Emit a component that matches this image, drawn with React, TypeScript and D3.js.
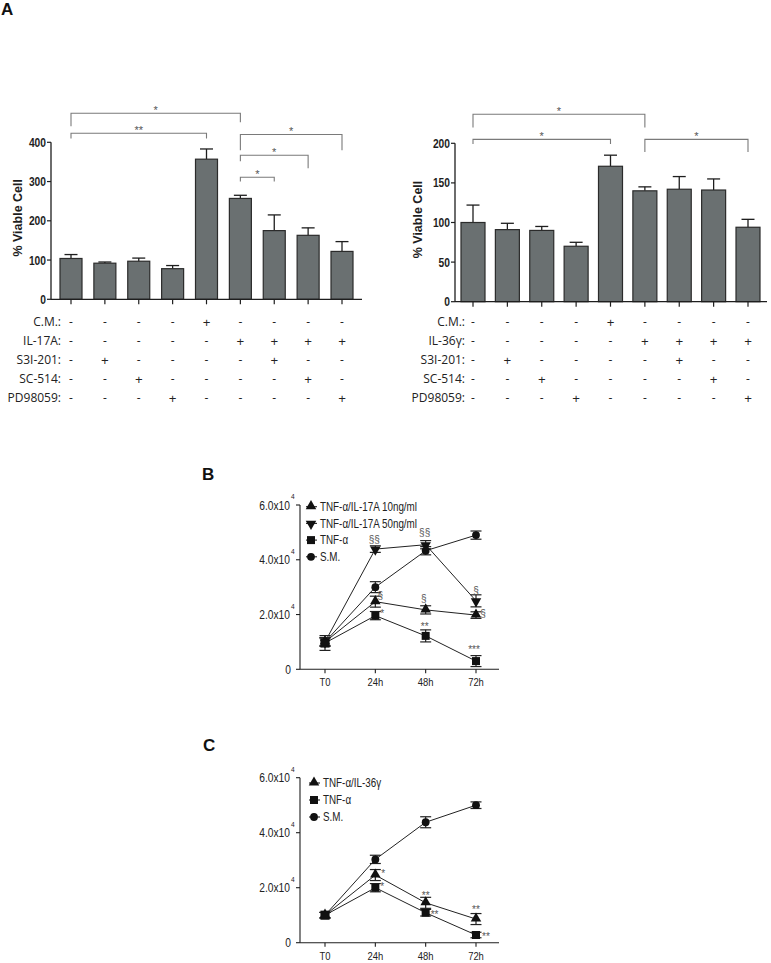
import React from "react";
import * as d3 from "d3";

const SANS = "'Liberation Sans', Arial, sans-serif";
const TABLE_FONT = "'Open Sans', 'Noto Sans', sans-serif";
const NARROW_SCALE = 0.82;

// ---------------- Panel A data ----------------
const conditions = d3.range(9);
const il17aMeans = [104, 92, 97, 78, 357, 257, 175, 163, 122];
const il17aErrors = [10, 3, 8, 8, 26, 8, 40, 19, 25];
const il36gMeans = [100, 91, 90, 70, 171, 140, 142, 141, 94];
const il36gErrors = [22, 8, 5, 5, 14, 5, 16, 14, 10];
const il17aTicks = [0, 100, 200, 300, 400];
const il36gTicks = [0, 50, 100, 150, 200];
const rowLabelsIL17A = ["C.M.:", "IL-17A:", "S3I-201:", "SC-514:", "PD98059:"];
const rowLabelsIL36G = ["C.M.:", "IL-36γ:", "S3I-201:", "SC-514:", "PD98059:"];
const treatmentRows = [
  ["-", "-", "-", "-", "+", "-", "-", "-", "-"],
  ["-", "-", "-", "-", "-", "+", "+", "+", "+"],
  ["-", "+", "-", "-", "-", "-", "+", "-", "-"],
  ["-", "-", "+", "-", "-", "-", "-", "+", "-"],
  ["-", "-", "-", "+", "-", "-", "-", "-", "+"],
];
const il17aBrackets = [
  { from: 0, to: 5, level: 474, endFrom: 441, endTo: 451, label: "*" },
  { from: 0, to: 4, level: 423, endFrom: 410, endTo: 410, label: "**" },
  { from: 5, to: 8, level: 420, endFrom: 380, endTo: 380, label: "*" },
  { from: 5, to: 7, level: 367, endFrom: 352, endTo: 334, label: "*" },
  { from: 5, to: 6, level: 311, endFrom: 300, endTo: 300, label: "*" },
];
const il36gBrackets = [
  { from: 0, to: 5, level: 236.6, endFrom: 220, endTo: 220, label: "*" },
  { from: 0, to: 4, level: 205, endFrom: 199, endTo: 199, label: "*" },
  { from: 5, to: 8, level: 205, endFrom: 189, endTo: 189, label: "*" },
];

// ---------------- Panels B / C data (x10^4 cells) ----------------
const timeLabels = ["T0", "24h", "48h", "72h"];
const lineTicks = [0, 2, 4, 6];
const bTnfIl17a10 = [1.0, 2.47, 2.17, 1.98];
const bTnfIl17a10Err = [0.15, 0.2, 0.15, 0.12];
const bTnfIl17a50 = [1.0, 4.39, 4.55, 2.5];
const bTnfIl17a50Err = [0.15, 0.12, 0.15, 0.22];
const bTnf = [0.96, 1.96, 1.22, 0.3];
const bTnfErr = [0.27, 0.15, 0.22, 0.2];
const bSM = [1.0, 3.0, 4.33, 4.9];
const bSMErr = [0.15, 0.2, 0.15, 0.15];

const cTnfIl36g = [1.0, 2.46, 1.45, 0.86];
const cTnfIl36gErr = [0.1, 0.2, 0.2, 0.2];
const cTnf = [1.0, 2.0, 1.09, 0.28];
const cTnfErr = [0.1, 0.15, 0.12, 0.1];
const cSM = [1.0, 3.03, 4.38, 5.0];
const cSMErr = [0.1, 0.15, 0.2, 0.12];

const bLegend = ["TNF-α/IL-17A 10ng/ml", "TNF-α/IL-17A 50ng/ml", "TNF-α", "S.M."];
const cLegend = ["TNF-α/IL-36γ", "TNF-α", "S.M."];

// annotations: series index, time index, text, offsets of glyph centre
const bNotes = [
  { s: 1, t: 1, text: "§§", dx: -1, dy: -10, anchor: "middle" },
  { s: 1, t: 2, text: "§§", dx: -1, dy: -12, anchor: "middle" },
  { s: 1, t: 3, text: "§", dx: 0, dy: -10, anchor: "middle" },
  { s: 0, t: 1, text: "§", dx: 5, dy: -6, anchor: "middle" },
  { s: 0, t: 2, text: "§", dx: -2, dy: -11, anchor: "middle" },
  { s: 0, t: 3, text: "§", dx: 7, dy: -2, anchor: "middle" },
  { s: 2, t: 1, text: "*", dx: 5, dy: -4, anchor: "start" },
  { s: 2, t: 2, text: "**", dx: -1, dy: -11, anchor: "middle" },
  { s: 2, t: 3, text: "***", dx: -2, dy: -13, anchor: "middle" },
];
const cNotes = [
  { s: 0, t: 1, text: "*", dx: 6, dy: -3, anchor: "start" },
  { s: 1, t: 1, text: "*", dx: 5, dy: -3, anchor: "start" },
  { s: 0, t: 2, text: "**", dx: 0, dy: -9, anchor: "middle" },
  { s: 1, t: 2, text: "**", dx: 5, dy: 0, anchor: "start" },
  { s: 0, t: 3, text: "**", dx: 0, dy: -11, anchor: "middle" },
  { s: 1, t: 3, text: "**", dx: 6, dy: 0, anchor: "start" },
];

// ---------------- styling ----------------
const BAR_FILL = "#6a7071";
const BAR_STROKE = "#2b2b2b";
const INK = "#1e1e1e";
const BRACKET = "#7a7a7a";

// horizontally condensed text (emulates a narrow sans face)
function NText(props: {
  x: number;
  y: number;
  children: React.ReactNode;
  anchor?: string;
  size: number;
  bold?: boolean;
  fill?: string;
  dy?: string;
}) {
  return (
    <text
      transform={`translate(${props.x},${props.y}) scale(${NARROW_SCALE},1)`}
      textAnchor={props.anchor || "start"}
      dy={props.dy}
      fontSize={props.size}
      fontWeight={props.bold ? "bold" : "normal"}
      fontFamily={SANS}
      fill={props.fill || "#222"}
    >
      {props.children}
    </text>
  );
}

type BarProps = {
  means: number[];
  errors: number[];
  ticks: number[];
  rowLabels: string[];
  brackets: { from: number; to: number; level: number; endFrom: number; endTo: number; label: string }[];
  xRange: [number, number];
  yRange: [number, number];
  yMax: number;
  axisX: number;
  axisEnd: number;
  barWidth: number;
  yLabelX: number;
};

function BarPanel(p: BarProps) {
  const x = d3.scalePoint<number>().domain(conditions).range(p.xRange);
  const y = d3.scaleLinear().domain([0, p.yMax]).range(p.yRange);
  const y0 = y(0);
  const rowY = d3.scalePoint<number>().domain(d3.range(5)).range([322, 398]);
  const cap = 13;
  return (
    <g>
      {p.brackets.map((b, i) => {
        const xa = x(b.from)!, xb = x(b.to)!;
        const ly = y(b.level);
        return (
          <g key={"br" + i}>
            <path
              d={`M${xa},${y(b.endFrom)}V${ly}H${xb}V${y(b.endTo)}`}
              fill="none"
              stroke={BRACKET}
              strokeWidth={1.1}
            />
            <text x={(xa + xb) / 2} y={ly + 1} textAnchor="middle" fontSize={11} fill="#555" fontFamily={SANS}>
              {b.label}
            </text>
          </g>
        );
      })}
      {conditions.map((i) => {
        const cx = x(i)!;
        return (
          <g key={"e" + i} stroke={INK} strokeWidth={1.3}>
            <line x1={cx} x2={cx} y1={y(p.means[i])} y2={y(p.means[i] + p.errors[i])} />
            <line x1={cx - cap / 2} x2={cx + cap / 2} y1={y(p.means[i] + p.errors[i])} y2={y(p.means[i] + p.errors[i])} />
          </g>
        );
      })}
      {conditions.map((i) => (
        <rect
          key={"b" + i}
          x={x(i)! - p.barWidth / 2}
          y={y(p.means[i])}
          width={p.barWidth}
          height={y0 - y(p.means[i])}
          fill={BAR_FILL}
          stroke={BAR_STROKE}
          strokeWidth={1.2}
        />
      ))}
      <line x1={p.axisX} x2={p.axisX} y1={y(p.yMax)} y2={y0} stroke={INK} strokeWidth={1.3} />
      <line x1={p.axisX} x2={p.axisEnd} y1={y0} y2={y0} stroke={INK} strokeWidth={1.3} />
      {p.ticks.map((t) => (
        <g key={"t" + t}>
          <line x1={p.axisX - 4} x2={p.axisX} y1={y(t)} y2={y(t)} stroke={INK} strokeWidth={1.2} />
          <NText x={p.axisX - 5} y={y(t)} dy="0.36em" anchor="end" size={12.5} bold fill={INK}>
            {t}
          </NText>
        </g>
      ))}
      {conditions.map((i) => (
        <line key={"xt" + i} x1={x(i)!} x2={x(i)!} y1={y0} y2={y0 + 5} stroke={INK} strokeWidth={1.2} />
      ))}
      <text
        transform={`translate(${p.yLabelX},${(y(p.yMax) + y0) / 2 - 3}) rotate(-90)`}
        textAnchor="middle"
        dy="0.35em"
        fontSize={12.5}
        fontWeight="bold"
        fontFamily={SANS}
        fill={INK}
      >
        % Viable Cell
      </text>
      {p.rowLabels.map((lab, r) => (
        <g key={"row" + r} fontFamily={TABLE_FONT} fontSize={12} fill="#222">
          <text x={p.axisX + 10} y={rowY(r)!} dy="0.35em" textAnchor="end">
            {lab}
          </text>
          {treatmentRows[r].map((m, i) => (
            <text key={i} x={x(i)!} y={rowY(r)!} dy="0.35em" textAnchor="middle" fontSize={m === "+" ? 13.5 : 12}>
              {m}
            </text>
          ))}
        </g>
      ))}
    </g>
  );
}

type Series = { values: number[]; errors: number[]; shape: string };

function Marker({ shape, cx, cy, scale = 1 }: { shape: string; cx: number; cy: number; scale?: number }) {
  const types: Record<string, d3.SymbolType> = {
    up: d3.symbolTriangle,
    down: d3.symbolTriangle,
    square: d3.symbolSquare,
    circle: d3.symbolCircle,
  };
  const sizes: Record<string, number> = { up: 48, down: 48, square: 64, circle: 48 };
  const path = d3.symbol().type(types[shape]).size(sizes[shape] * scale)()!;
  const rot = shape === "down" ? " rotate(180)" : "";
  const shift = shape === "up" ? -0.5 : shape === "down" ? 0.5 : 0;
  return <path d={path} transform={`translate(${cx},${cy + shift})${rot}`} fill="#111" />;
}

type LineProps = {
  series: Series[];
  legend: string[];
  notes: { s: number; t: number; text: string; dx: number; dy: number; anchor: string }[];
  yRange: [number, number];
  legendX: number;
  legendY: number;
  legendStep: number;
};

function LinePanel(p: LineProps) {
  const x = d3.scalePoint<string>().domain(timeLabels).range([325, 476]);
  const y = d3.scaleLinear().domain([0, 6]).range(p.yRange);
  const axisX = 300;
  const y0 = y(0);
  const line = d3
    .line<number>()
    .x((_, i) => x(timeLabels[i])!)
    .y((d) => y(d));
  const cap = 11;
  return (
    <g>
      <line x1={axisX} x2={axisX} y1={y(6)} y2={y0} stroke={INK} strokeWidth={1.1} />
      <line x1={axisX} x2={499} y1={y0} y2={y0} stroke={INK} strokeWidth={1.1} />
      {lineTicks.map((t) => (
        <g key={"yt" + t}>
          <line x1={axisX - 4} x2={axisX} y1={y(t)} y2={y(t)} stroke={INK} strokeWidth={1.1} />
          {t === 0 ? (
            <NText x={axisX - 9} y={y(t)} dy="0.36em" anchor="end" size={12.5}>
              0
            </NText>
          ) : (
            <g>
              <NText x={axisX - 10} y={y(t)} dy="0.36em" anchor="end" size={12.5}>
                {`${t.toFixed(1)}x10`}
              </NText>
              <NText x={axisX - 9} y={y(t) - 6} size={8}>
                4
              </NText>
            </g>
          )}
        </g>
      ))}
      {timeLabels.map((t) => (
        <g key={"xt" + t}>
          <line x1={x(t)!} x2={x(t)!} y1={y0} y2={y0 + 4} stroke={INK} strokeWidth={1.1} />
          <NText x={x(t)!} y={y0 + 17} anchor="middle" size={11.5}>
            {t}
          </NText>
        </g>
      ))}
      {p.series.map((s, k) => (
        <path key={"l" + k} d={line(s.values)!} fill="none" stroke="#222" strokeWidth={1} />
      ))}
      {p.series.map((s, k) =>
        s.values.map((v, i) => {
          const cx = x(timeLabels[i])!;
          const hi = y(v + s.errors[i]);
          const lo = y(v - s.errors[i]);
          return (
            <g key={`e${k}-${i}`} stroke="#222" strokeWidth={1.2}>
              <line x1={cx} x2={cx} y1={hi} y2={lo} />
              <line x1={cx - cap / 2} x2={cx + cap / 2} y1={hi} y2={hi} />
              <line x1={cx - cap / 2} x2={cx + cap / 2} y1={lo} y2={lo} />
            </g>
          );
        })
      )}
      {p.series.map((s, k) =>
        s.values.map((v, i) => (
          <Marker
            key={`m${k}-${i}`}
            shape={s.shape}
            cx={x(timeLabels[i])!}
            cy={y(v)}
            scale={i === 0 && s.shape === "square" ? 1.3 : 1}
          />
        ))
      )}
      {p.notes.map((n, j) => {
        const s = p.series[n.s];
        const cx = x(timeLabels[n.t])! + n.dx;
        const cy = y(s.values[n.t]) + n.dy;
        const base = n.text.startsWith("*") ? 5 : 3.5;
        return (
          <text key={"n" + j} x={cx} y={cy + base} textAnchor={n.anchor} fontSize={10} fontFamily={SANS} fill="#555">
            {n.text}
          </text>
        );
      })}
      {p.legend.map((lab, i) => {
        const ly = p.legendY + i * p.legendStep;
        return (
          <g key={"lg" + i}>
            <line x1={p.legendX - 5} x2={p.legendX + 6} y1={ly} y2={ly} stroke="#222" strokeWidth={1.1} />
            <Marker shape={p.series[i].shape} cx={p.legendX} cy={ly} />
            <NText x={p.legendX + 9} y={ly} dy="0.35em" size={12}>
              {lab}
            </NText>
          </g>
        );
      })}
    </g>
  );
}

export default function App() {
  const bSeries: Series[] = [
    { values: bTnfIl17a10, errors: bTnfIl17a10Err, shape: "up" },
    { values: bTnfIl17a50, errors: bTnfIl17a50Err, shape: "down" },
    { values: bTnf, errors: bTnfErr, shape: "square" },
    { values: bSM, errors: bSMErr, shape: "circle" },
  ];
  const cSeries: Series[] = [
    { values: cTnfIl36g, errors: cTnfIl36gErr, shape: "up" },
    { values: cTnf, errors: cTnfErr, shape: "square" },
    { values: cSM, errors: cSMErr, shape: "circle" },
  ];
  return (
    <svg
      width={771}
      height={963}
      viewBox="0 0 771 963"
      style={{ position: "absolute", left: 0, top: 0, background: "#fff" }}
    >
      <rect width={771} height={963} fill="#fff" />
      <g fontFamily={SANS} fontWeight="bold" fontSize={17} fill="#111">
        <text x={1} y={15}>A</text>
        <text x={202} y={480}>B</text>
        <text x={203} y={751}>C</text>
      </g>
      <BarPanel
        means={il17aMeans}
        errors={il17aErrors}
        ticks={il17aTicks}
        rowLabels={rowLabelsIL17A}
        brackets={il17aBrackets}
        xRange={[71, 342]}
        yRange={[299.3, 142.3]}
        yMax={400}
        axisX={51}
        axisEnd={362}
        barWidth={22}
        yLabelX={18}
      />
      <BarPanel
        means={il36gMeans}
        errors={il36gErrors}
        ticks={il36gTicks}
        rowLabels={rowLabelsIL36G}
        brackets={il36gBrackets}
        xRange={[473, 748]}
        yRange={[301.7, 143.3]}
        yMax={200}
        axisX={455}
        axisEnd={767}
        barWidth={24}
        yLabelX={418}
      />
      <LinePanel
        series={bSeries}
        legend={bLegend}
        notes={bNotes}
        yRange={[669.3, 505]}
        legendX={311}
        legendY={506.7}
        legendStep={16.7}
      />
      <LinePanel
        series={cSeries}
        legend={cLegend}
        notes={cNotes}
        yRange={[942.7, 777.7]}
        legendX={314}
        legendY={783}
        legendStep={17}
      />
    </svg>
  );
}
